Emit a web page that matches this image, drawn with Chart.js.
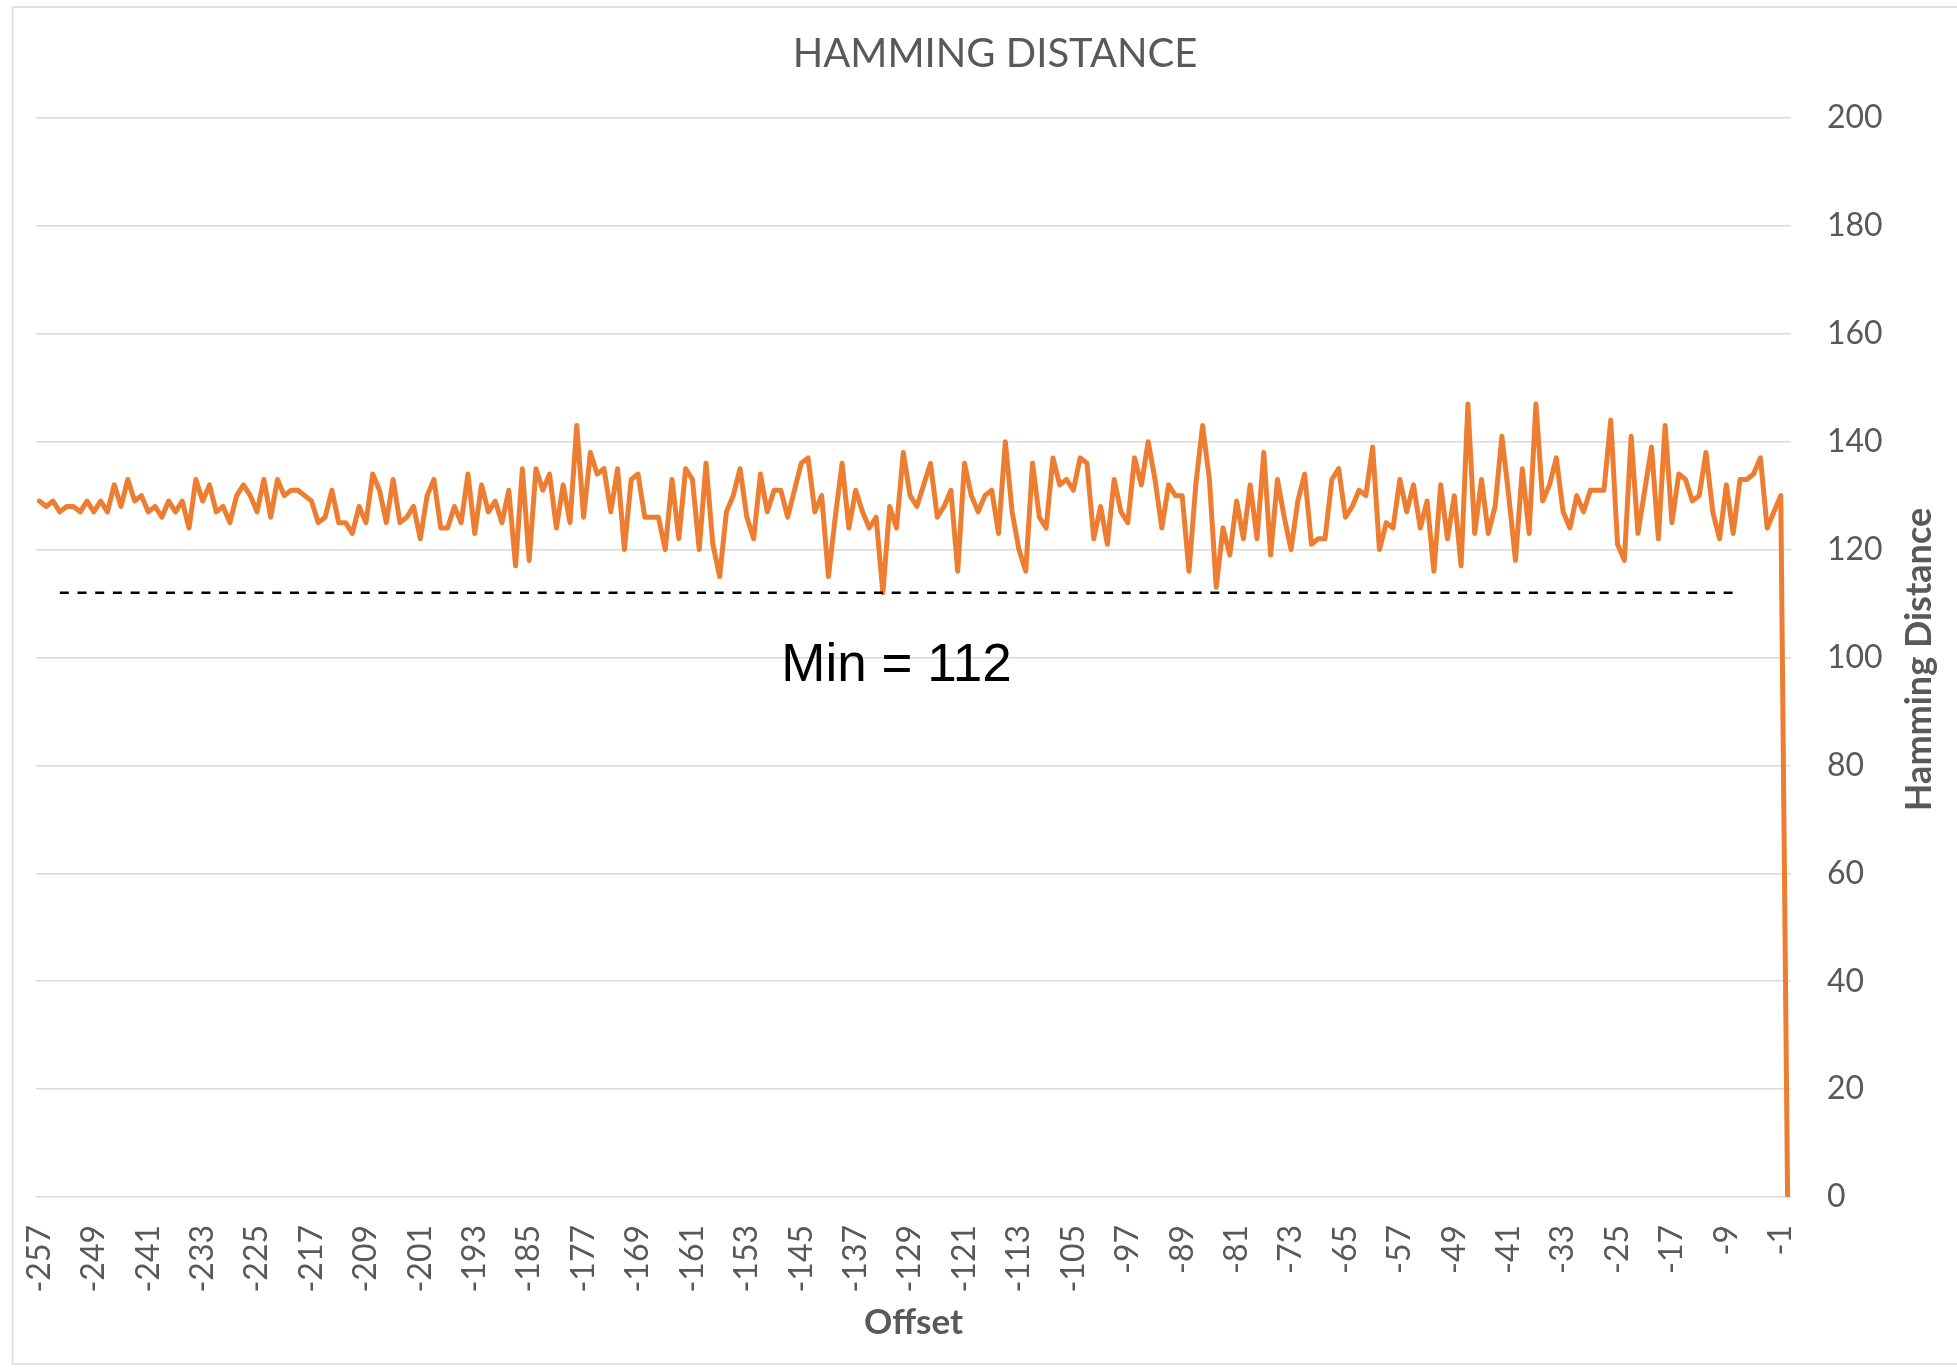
<!DOCTYPE html>
<html>
<head>
<meta charset="utf-8">
<title>Hamming Distance</title>
<style>
  html, body { margin: 0; padding: 0; background: #fff; }
  canvas { display: block; }
</style>
<script src="https://cdn.jsdelivr.net/npm/chart.js@4.4.1/dist/chart.umd.min.js"></script>
</head>
<body>
<canvas id="hammingChart" width="1957" height="1368"></canvas>
<script>
// categories: offsets -257 .. 0, labelled every 8th
const offsets = [];
for (let o = -257; o <= 0; o++) offsets.push(o);
const labelEvery = 8;

// values, one per offset
const hammingDistance = [
  129, 128, 129, 127, 128, 128, 127, 129, 127, 129,
  127, 132, 128, 133, 129, 130, 127, 128, 126, 129,
  127, 129, 124, 133, 129, 132, 127, 128, 125, 130,
  132, 130, 127, 133, 126, 133, 130, 131, 131, 130,
  129, 125, 126, 131, 125, 125, 123, 128, 125, 134,
  131, 125, 133, 125, 126, 128, 122, 130, 133, 124,
  124, 128, 125, 134, 123, 132, 127, 129, 125, 131,
  117, 135, 118, 135, 131, 134, 124, 132, 125, 143,
  126, 138, 134, 135, 127, 135, 120, 133, 134, 126,
  126, 126, 120, 133, 122, 135, 133, 120, 136, 121,
  115, 127, 130, 135, 126, 122, 134, 127, 131, 131,
  126, 131, 136, 137, 127, 130, 115, 126, 136, 124,
  131, 127, 124, 126, 112, 128, 124, 138, 130, 128,
  132, 136, 126, 128, 131, 116, 136, 130, 127, 130,
  131, 123, 140, 127, 120, 116, 136, 126, 124, 137,
  132, 133, 131, 137, 136, 122, 128, 121, 133, 127,
  125, 137, 132, 140, 133, 124, 132, 130, 130, 116,
  132, 143, 133, 113, 124, 119, 129, 122, 132, 122,
  138, 119, 133, 126, 120, 129, 134, 121, 122, 122,
  133, 135, 126, 128, 131, 130, 139, 120, 125, 124,
  133, 127, 132, 124, 129, 116, 132, 122, 130, 117,
  147, 123, 133, 123, 128, 141, 130, 118, 135, 123,
  147, 129, 132, 137, 127, 124, 130, 127, 131, 131,
  131, 144, 121, 118, 141, 123, 131, 139, 122, 143,
  125, 134, 133, 129, 130, 138, 127, 122, 132, 123,
  133, 133, 134, 137, 124, 127, 130, 0
];

// dashed minimum line and its note
const minValue = 112;
const minLineFrom = -254;
const minLineTo = -8;
const minNoteOffset = -131;
const minNoteValue = 95.6;

const yMin = 0;
const yMax = 200;
const yStep = 20;

const FONT = 'Lato, "Open Sans", sans-serif';
const GREY = '#595959';

const minLine = offsets.map((o) => (o >= minLineFrom && o <= minLineTo ? minValue : null));

const decor = {
  id: 'decor',
  beforeDraw(chart) {
    const ctx = chart.ctx;
    ctx.save();
    ctx.fillStyle = '#fff';
    ctx.fillRect(0, 0, chart.width, chart.height);
    ctx.strokeStyle = '#D9D9D9';
    ctx.lineWidth = 1.5;
    ctx.strokeRect(12.5, 7, chart.width, 1357);
    ctx.restore();
  },
  afterDraw(chart) {
    const ctx = chart.ctx;
    const xs = chart.scales.x;
    const ys = chart.scales.y;
    ctx.save();

    ctx.fillStyle = GREY;
    ctx.font = '40px ' + FONT;
    ctx.textAlign = 'center';
    ctx.textBaseline = 'alphabetic';
    ctx.fillText('HAMMING DISTANCE', 995, 67);

    ctx.save();
    ctx.translate(1931, (chart.chartArea.top + chart.chartArea.bottom) / 2 + 2);
    ctx.rotate(-Math.PI / 2);
    ctx.font = 'bold 36px ' + FONT;
    ctx.fillText('Hamming Distance', 0, 0);
    ctx.restore();

    ctx.fillStyle = '#000';
    ctx.font = '53px "Liberation Sans", Arial, sans-serif';
    ctx.fillText(
      'Min = ' + minValue,
      xs.getPixelForValue(offsets.indexOf(minNoteOffset)),
      ys.getPixelForValue(minNoteValue)
    );
    ctx.restore();
  },
};

new Chart(document.getElementById('hammingChart').getContext('2d'), {
  type: 'line',
  data: {
    labels: offsets,
    datasets: [
      {
        label: 'Min',
        data: minLine,
        borderColor: '#000',
        borderWidth: 2.5,
        borderDash: [9, 8.7],
        pointRadius: 0,
        order: 0,
      },
      {
        label: 'Hamming Distance',
        data: hammingDistance,
        borderColor: '#ED7D31',
        borderWidth: 5,
        borderJoinStyle: 'round',
        borderCapStyle: 'round',
        pointRadius: 0,
        tension: 0,
        order: 1,
      },
    ],
  },
  options: {
    responsive: false,
    animation: false,
    devicePixelRatio: 1,
    layout: { padding: { top: 118, left: 36, right: 0, bottom: 0 } },
    plugins: {
      legend: { display: false },
      tooltip: { enabled: false },
      title: { display: false },
    },
    scales: {
      x: {
        type: 'category',
        offset: true,
        grid: { display: false, drawTicks: false },
        border: { display: false },
        ticks: {
          autoSkip: false,
          minRotation: 90,
          maxRotation: 90,
          padding: 28,
          color: GREY,
          font: { family: FONT, size: 32 },
          callback: (v, i) => (i % labelEvery === 0 ? String(offsets[i]) : ''),
        },
        title: {
          display: true,
          text: 'Offset',
          color: GREY,
          font: { family: FONT, size: 35, weight: 'bold' },
          padding: { top: 0, bottom: 24 },
        },
        afterFit(scale) {
          scale.height = 171;
        },
      },
      y: {
        position: 'right',
        min: yMin,
        max: yMax,
        grid: { color: '#D9D9D9', lineWidth: 1.5, drawTicks: false },
        border: { display: false },
        ticks: {
          stepSize: yStep,
          padding: 36,
          color: GREY,
          font: { family: FONT, size: 32 },
        },
        afterFit(scale) {
          scale.width = 166;
        },
      },
    },
  },
  plugins: [decor],
});
</script>
</body>
</html>
